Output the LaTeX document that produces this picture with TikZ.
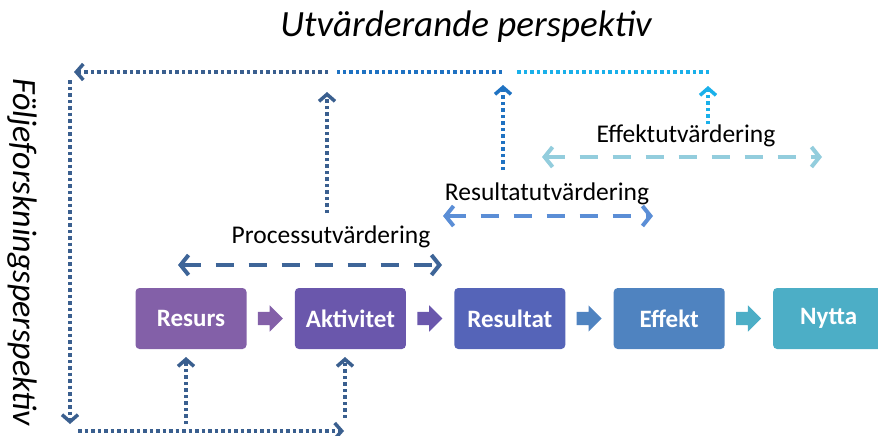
\documentclass[tikz,border=0pt]{standalone}
\usepackage{fontspec}
\setmainfont{Carlito}
\usetikzlibrary{arrows.meta,positioning,shapes.arrows}
\definecolor{resursc}{HTML}{8360A8}
\definecolor{aktivc}{HTML}{6A57AC}
\definecolor{resultc}{HTML}{5564B8}
\definecolor{effektc}{HTML}{4F83C0}
\definecolor{nyttac}{HTML}{4CAEC6}
\definecolor{darkline}{HTML}{3A5F8F}
\definecolor{midline}{HTML}{1F72C2}
\definecolor{lightline}{HTML}{1AB0EA}
\definecolor{procspan}{HTML}{3E6598}
\definecolor{resspan}{HTML}{5B8ED6}
\definecolor{effspan}{HTML}{93CDDD}

\begin{document}
\begin{tikzpicture}[x=1pt,y=-1pt]
    \tikzset{
      stage/.style={rounded corners=4pt,minimum width=111pt,minimum height=61pt,inner sep=0pt,text=white,font=\fontsize{25}{27}\selectfont\bfseries},
      flow/.style={single arrow,inner xsep=0pt,inner ysep=6.5pt,minimum height=25pt,single arrow head extend=6.5pt,single arrow tip angle=90},
      span/.style={line width=4pt,dash pattern=on 18pt off 15pt,{Straight Barb[length=8pt,width=20pt,line width=4pt]}-{Straight Barb[length=8pt,width=20pt,line width=4pt]}},
      track/.style={line width=4pt,dash pattern=on 3.5pt off 3pt},
      up/.style={track,-{Straight Barb[length=7pt,width=16pt,line width=3.5pt]}},
      lab/.style={font=\fontsize{25.5}{27}\selectfont,text=black,inner sep=0pt},
      persp/.style={font=\fontsize{37}{39}\selectfont\itshape,text=black,inner sep=0pt}
    }
    \useasboundingbox (0,0) rectangle (878,436);
    % kedjan
    \node[stage,fill=resursc] (resurs) at (191,318.5) {Resurs};
    \node[flow,fill=resursc,right=11pt of resurs] (f1) {};
    \node[stage,fill=aktivc,right=48pt of resurs] (aktivitet) {Aktivitet};
    \node[flow,fill=aktivc,right=11pt of aktivitet] (f2) {};
    \node[stage,fill=resultc,right=48pt of aktivitet] (resultat) {Resultat};
    \node[flow,fill=effektc,right=11pt of resultat] (f3) {};
    \node[stage,fill=effektc,right=48pt of resultat] (effekt) {Effekt};
    \node[flow,fill=nyttac,right=11pt of effekt] (f4) {};
    \node[stage,fill=nyttac,right=48pt of effekt] (nytta) {Nytta};
    % perspektiv
    \node[persp] (title) at (466,27) {Utvärderande perspektiv};
    \node[persp,font=\fontsize{34}{36}\selectfont\itshape,rotate=-90,anchor=west] (side) at (22,78) {Följeforskningsperspektiv};
    % utvärderingar
    \node[lab] (proc) at (331,237) {Processutvärdering};
    \node[lab] (resl) at (547,194) {Resultatutvärdering};
    \node[lab] (effl) at (686,136) {Effektutvärdering};
    \coordinate (pL) at (178,265);
    \coordinate (pR) at (442,265);
    \coordinate (rL) at (443,216);
    \coordinate (rR) at (653,216);
    \coordinate (eL) at (542,157);
    \coordinate (eR) at (822,157);
    \draw[span,draw=procspan] (pL) -- (pR);
    \draw[span,draw=resspan] (rL) -- (rR);
    \draw[span,draw=effspan] (eL) -- (eR);
    % ramen
    \coordinate (tA) at (709,72);
    \coordinate (tB) at (514,72);
    \coordinate (tC) at (502,72);
    \coordinate (tD) at (337,72);
    \coordinate (tE) at (328,72);
    \coordinate (tF) at (74,72);
    \coordinate (lTop) at (70,80);
    \coordinate (lBot) at (70,424);
    \coordinate (bL) at (78,431);
    \coordinate (bR) at (344,431);
    \draw[track,draw=lightline] (tA) -- (tB);
    \draw[track,draw=midline] (tC) -- (tD);
    \draw[track,draw=darkline,-{Straight Barb[length=7pt,width=16pt,line width=3.5pt]}] (tE) -- (tF);
    \draw[up,draw=darkline] (lTop) -- (lBot);
    \draw[up,draw=darkline] (bL) -- (bR);
    % pilar uppåt
    \coordinate (pu0) at (327,213);
    \coordinate (pu1) at (327,92);
    \coordinate (ru0) at (503,170);
    \coordinate (ru1) at (503,85);
    \coordinate (eu0) at (708,124);
    \coordinate (eu1) at (708,86);
    \coordinate (su0) at (186,424);
    \coordinate (su1) at (186,357);
    \coordinate (au0) at (345,418);
    \coordinate (au1) at (345,357);
    \draw[up,draw=darkline] (pu0) -- (pu1);
    \draw[up,draw=midline] (ru0) -- (ru1);
    \draw[up,draw=lightline] (eu0) -- (eu1);
    \draw[up,draw=darkline] (su0) -- (su1);
    \draw[up,draw=darkline] (au0) -- (au1);
\end{tikzpicture}
\end{document}
